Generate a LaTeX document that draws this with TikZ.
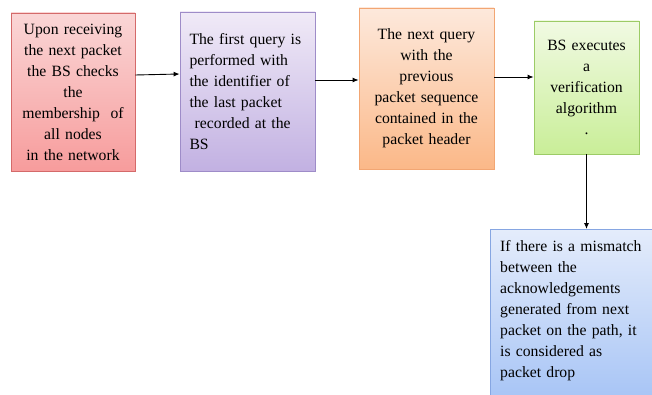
\documentclass[tikz,border=0pt]{standalone}
\usepackage{fontspec}
\setmainfont{Liberation Serif}
\usetikzlibrary{arrows.meta,positioning,shadows}

\definecolor{redline}{HTML}{D46A6A}
\definecolor{redtop}{HTML}{FAD6D6}
\definecolor{redbot}{HTML}{F79C9C}
\definecolor{violine}{HTML}{9E8CC8}
\definecolor{viotop}{HTML}{F0EAF7}
\definecolor{viobot}{HTML}{C2B1E2}
\definecolor{orgline}{HTML}{F2A673}
\definecolor{orgtop}{HTML}{FDE9DC}
\definecolor{orgbot}{HTML}{FBB888}
\definecolor{grnline}{HTML}{9CCB66}
\definecolor{grntop}{HTML}{F1FAE3}
\definecolor{grnbot}{HTML}{C9EE98}
\definecolor{bluline}{HTML}{86A6E2}
\definecolor{blutop}{HTML}{E4ECFB}
\definecolor{blubot}{HTML}{A2C1F5}

\tikzset{
  stage/.style n args={3}{draw=#1, line width=0.8pt, top color=#2, bottom color=#3,
    drop shadow={opacity=0.25, shadow xshift=1pt, shadow yshift=-1.5pt},
    inner sep=0pt, font=\fontsize{15.7}{21}\selectfont},
  flow/.style={-{Latex[length=6pt,width=5pt]}, line width=0.9pt}
}

\begin{document}
\begin{tikzpicture}[x=1pt,y=-1pt]
  \clip (0,0) rectangle (652,395);

  % the five steps
  \node[stage={redline}{redtop}{redbot}, minimum width=124pt, minimum height=158pt,
        text width=120pt, align=center] (recv) at (73,92)
    {Upon receiving\\the next packet\\the BS checks\\the\\membership~ of\\all nodes\\in the network};
  \node[stage={violine}{viotop}{viobot}, minimum width=135pt, minimum height=159pt,
        text width=116pt, align=left] (first) at (247.5,91.5)
    {The first query is\\performed with\\the identifier of\\the last packet\\\ recorded at the\\BS};
  \node[stage={orgline}{orgtop}{orgbot}, minimum width=135pt, minimum height=161pt,
        text width=130pt, align=center] (next) at (426.5,88.5)
    {The next query\\with the\\previous\\packet sequence\\contained in the\\packet header};
  \node[stage={grnline}{grntop}{grnbot}, minimum width=105pt, minimum height=133pt,
        text width=102pt, align=center] (verify) at (586.5,87.5)
    {BS executes\\a\\verification\\algorithm\\.};
  \node[stage={bluline}{blutop}{blubot}, minimum width=172pt, minimum height=185pt,
        anchor=north west] (drop) at (490,229) {};
  \node[anchor=north west, text width=170pt, align=left, inner sep=0pt,
        font=\fontsize{15.7}{21}\selectfont] (droptext) at (500,240)
    {If there is a mismatch\\between the\\acknowledgements\\generated from next\\packet on the path, it\\is considered as\\packet drop};

  % connectors
  \draw[flow] ([yshift=17pt]recv.east) -- ([yshift=17.5pt]first.west);
  \draw[flow] ([yshift=11.5pt]first.east) -- ([yshift=8.5pt]next.west);
  \draw[flow] ([yshift=11.5pt]next.east) -- ([yshift=10.5pt]verify.west);
  \draw[flow] (verify.south) -- (verify.south |- drop.north);
\end{tikzpicture}
\end{document}
